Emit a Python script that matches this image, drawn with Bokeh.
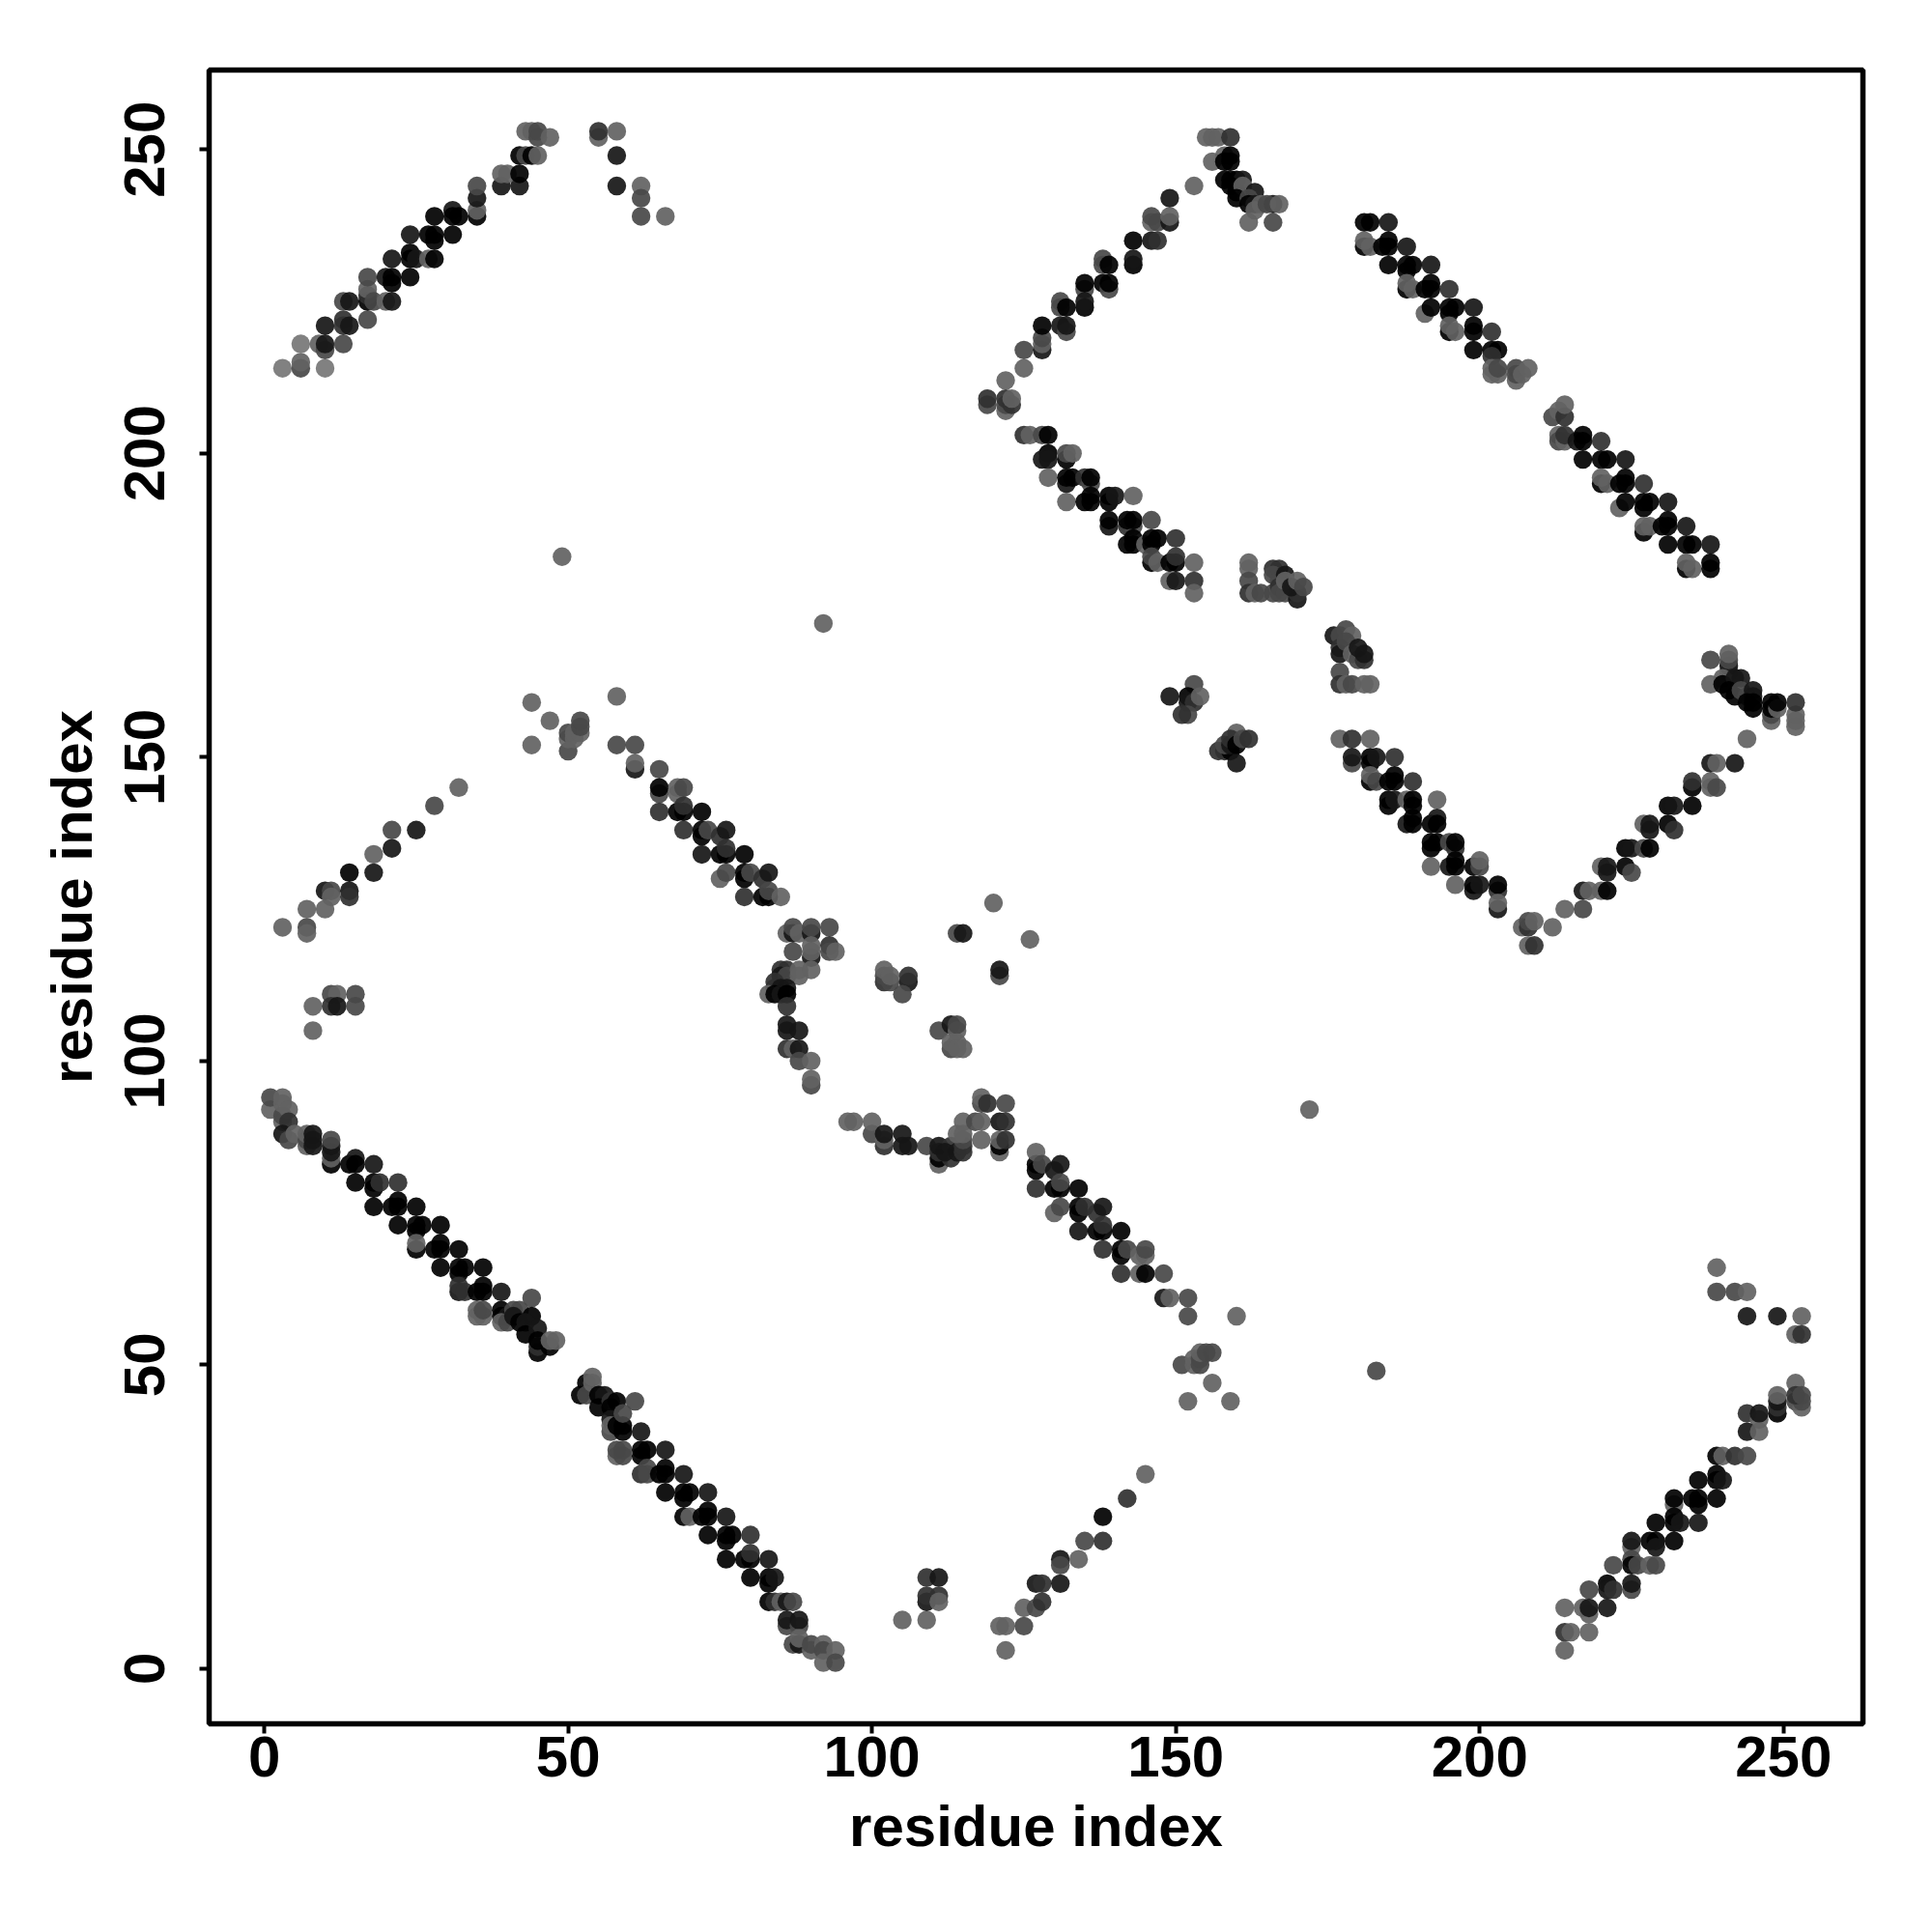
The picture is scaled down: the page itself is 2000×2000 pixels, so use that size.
from bokeh.embed import file_html
from bokeh.resources import INLINE
from bokeh.plotting import figure
from bokeh.models import ColumnDataSource, FixedTicker

# (i, j, level): level 0 is the darkest contact, 5 the palest
top_left = [(3,214,5),(6,214,3),(6,215,4),(10,214,5),(6,218,5),(9,218,4),(10,217,3),(10,218,1),(13,218,3),
 (10,221,1),(13,222,2),(13,221,2),(14,221,1),(17,222,3),(13,225,3),(14,225,1),(17,225,0),(17,226,2),(17,227,4),(17,229,3),
 (18,225,3),(20,225,4),(21,225,1),(20,229,1),(21,229,0),(21,228,0),(24,229,0),(21,232,1),(24,232,0),(24,233,0),(25,232,1),
 (27,232,4),(28,232,0),(24,236,1),(27,236,0),(28,236,0),(28,235,0),(31,236,0),(28,239,0),(31,240,1),(31,239,0),(32,239,0),
 (35,239,0),(35,240,4),(35,242,1),(35,244,3),(39,244,1),(42,244,1),(39,246,4),(40,246,4),(42,246,0),(42,249,0),(43,249,3),
 (44,249,0),(45,249,4),(43,253,4),(44,253,4),(45,252,3),(45,253,3),(47,252,4),(55,252,4),(55,253,2),(58,253,4),(58,249,1),
 (58,244,1),(62,244,4),(62,242,3),(62,239,3),(66,239,4)]

upper_mid = [(119,208,3),(119,209,2),(122,212,4),(122,207,4),(122,208,3),(122,209,2),(123,208,2),(123,209,4),(125,214,4),(125,217,3),
 (128,217,1),(128,218,4),(128,219,3),(128,221,0),(131,221,1),(132,220,3),(132,221,1),(131,225,3),(131,224,3),(132,224,0),
 (135,227,3),(135,224,0),(135,225,1),(135,228,0),(138,228,0),(139,227,3),(139,228,0),(138,232,3),(138,231,3),(139,231,0),
 (143,231,0),(143,232,1),(143,235,0),(146,235,1),(147,235,2),(146,238,4),(146,239,3),(147,238,3),(149,238,1),(149,239,4),
 (149,242,1),(153,244,4),(155,252,4),(156,252,4),(157,252,4),(159,252,2),(156,248,4),(158,249,4),(158,248,0),(159,249,0),
 (159,248,0),(158,245,0),(159,245,0),(160,245,0),(161,245,1),(159,244,0),(160,243,0),(161,244,4),(160,242,0),(163,243,1),
 (162,242,3),(162,241,0),(163,241,1),(163,240,4),(164,241,4),(166,241,1),(165,241,3),(167,241,4),(162,238,4),(166,238,3)]

right_upper = [(181,238,0),(182,238,0),(185,238,1),(181,234,0),(181,235,4),(182,234,4),(184,234,0),(185,235,0),(185,234,0),(188,234,1),
 (185,231,0),(188,231,0),(188,230,0),(189,231,0),(192,231,1),(188,227,0),(188,228,4),(189,227,4),(191,227,0),(192,228,0),
 (192,227,0),(195,227,2),(191,223,4),(192,224,0),(195,224,0),(195,223,0),(196,224,0),(199,224,1),(195,220,0),(195,221,4),(196,220,4),
 (199,221,0),(199,220,0),(202,220,2),(199,217,0),(202,217,0),(203,217,0),(202,216,2),(202,213,4),(203,213,4),(202,214,4),(203,214,3),
 (206,212,4),(206,213,3),(206,214,3),(207,213,4),(208,214,4)]

right_lower = [(212,206,3),(213,207,4),(214,206,2),(214,208,4),(213,203,4),(213,202,3),(214,202,4),(214,203,2),(216,202,1),(217,203,0),(217,202,0),(220,202,2),
 (217,199,0),(220,199,0),(221,199,0),(224,199,1),(220,195,0),(220,196,4),(221,195,4),(223,195,0),(224,196,0),(224,195,0),(227,195,2),
 (223,191,4),(224,192,0),(227,192,0),(227,191,0),(228,192,0),(231,192,1),(227,187,0),(227,188,4),(228,188,4),(230,188,0),(231,189,0),(231,188,0),(234,188,1),
 (231,185,0),(234,185,0),(235,185,0),(238,185,1),(234,181,0),(234,182,4),(235,181,4),(238,182,0),(238,181,0)]

second_band = [(125,203,2),(126,203,4),(128,203,3),(129,203,0),(129,200,0),(128,199,1),(129,199,1),(132,199,0),(132,200,3),(133,200,4),(129,196,4),
 (132,195,1),(132,196,0),(133,196,0),(135,196,2),(136,195,3),(136,196,0),(132,192,4),(135,192,0),(136,192,0),(136,193,0),(139,193,0),(139,192,0),(140,193,1),(143,193,4),
 (139,188,1),(139,189,0),(142,188,2),(143,188,3),(142,189,0),(143,189,0),(146,189,3),(142,185,0),(143,185,0),(143,186,0),(145,185,4),(146,185,0),(146,186,0),(147,186,0),(150,186,2),
 (146,182,0),(146,183,3),(147,182,4),(149,182,0),(150,182,0),(150,183,2),(153,182,4),(149,179,4),(150,179,1),(153,179,2),(153,177,4)]

cluster_165 = [(162,182,4),(162,181,4),(162,179,3),(162,177,2),(163,177,4),(164,177,3),(166,181,2),(167,181,2),(166,180,3),(167,179,3),(168,180,1),(166,177,3),(167,178,2),(167,177,3),(168,177,3),(168,179,4),
 (170,176,1),(170,177,2),(169,178,1),(170,179,4),(171,178,3)]

cluster_178 = [(176,170,1),(178,171,3),(177,170,3),(179,170,4),(177,168,2),(177,167,1),(178,169,3),(179,167,4),(180,166,3),(181,166,2),(180,168,1),(181,167,1),
 (177,164,3),(177,162,2),(178,162,4),(179,162,3),(181,162,4),(182,162,4)]

cluster_150 = [(149,160,1),(153,162,3),(152,160,0),(152,159,1),(153,159,2),(154,160,4),(152,157,3),(151,157,2),
 (157,151,2),(158,151,2),(159,151,0),(158,152,3),(159,152,1),(160,154,4),(159,153,2),(160,152,0),(161,153,3),(162,153,2),(160,149,1)]

v_left = [(177,153,4),(179,153,2),(182,153,4),(179,149,3),(179,150,1),(182,150,0),(182,149,0),(183,150,1),(186,150,2),(182,146,0),(182,147,4),(183,146,3),
 (185,146,0),(186,147,0),(186,146,0),(189,146,2),(185,142,0),(185,143,0),(186,143,1),(188,143,4),(189,143,0),(189,142,0),(193,143,4),
 (188,139,1),(189,140,0),(189,139,0),(192,139,0),(193,140,1),(193,139,0),(192,136,0),(192,135,0),(193,136,0),(195,136,3),(196,135,2),(196,136,0),
 (192,132,4),(195,132,1),(196,132,0),(196,133,0),(199,132,0),(200,132,3),(200,133,4),(196,129,4),(199,128,1),(199,129,0),(200,129,1),
 (203,128,2),(203,129,0),(203,125,1),(203,126,4),(207,122,4),(208,122,2),(208,123,3),(209,123,4),(208,119,4),(209,119,2),(212,122,4)]

v_right = [(214,125,4),(217,125,3),(217,128,1),(218,128,4),(220,128,4),(221,128,0),(220,132,4),(221,131,1),(221,132,1),(224,132,0),(225,131,3),
 (224,135,0),(225,135,1),(227,135,3),(228,135,0),(227,139,4),(228,138,1),(228,139,1),(231,139,0),(232,138,2),(231,142,0),(232,142,1),(235,142,0),
 (235,145,0),(235,146,2),(238,145,4),(238,146,4),(239,145,3),(238,149,1),(239,149,4),(242,149,1),(244,153,4)]

right_edge = [(238,166,3),(238,162,4),(241,164,4),(241,165,1),(241,166,3),(241,167,4),(240,163,4),(240,162,0),(242,163,1),(243,163,1),(241,161,0),(242,160,0),
 (243,161,3),(244,160,3),(245,161,1),(245,160,1),(244,159,0),(245,158,0),(245,159,0),(248,156,4),(248,157,3),(248,158,0),(248,159,0),(249,158,4),(249,159,0),
 (252,155,4),(252,156,4),(252,157,4),(252,159,2)]

mid_band = [(58,160,4),(47,156,4),(50,151,3),(50,153,4),(50,154,3),(51,153,4),(51,154,4),(52,154,4),(52,155,3),(52,156,3),(58,152,3),(61,152,3),(61,148,1),(61,149,4),(65,148,3),
 (65,144,3),(65,145,0),(68,144,4),(68,145,4),(69,145,3),(65,141,2),(68,141,0),(69,141,0),(69,142,2),(72,141,0),(69,138,2),(72,138,0),(72,137,0),(73,138,3),(75,137,2),(76,138,1),
 (72,134,1),(75,134,0),(76,134,0),(76,135,2),(79,134,0),(75,130,4),(76,131,3),(79,131,0),(79,130,0),(80,131,3),(82,130,2),(83,131,1),(79,127,2),(82,127,0),(83,127,0),(83,128,3),(85,127,4)]

hook = [(86,121,4),(87,121,1),(87,122,3),(88,121,4),(90,121,1),(90,122,3),(93,122,3),(87,118,3),(90,117,1),(90,118,4),(90,119,4),(93,119,2),(93,118,3),(94,118,4),
 (85,115,2),(86,115,2),(85,114,1),(86,114,3),(88,114,4),(88,115,4),(90,115,4),(84,113,2),(84,112,2),(85,112,1),(86,112,1),(83,111,4),(84,111,0),(85,111,1),(86,111,0),
 (86,109,2),(86,106,1),(86,105,1),(88,105,1),(86,102,2),(87,102,4),(88,102,1),(88,100,3),(90,100,4),(90,96,3),(90,97,4)]

pocket = [(102,113,2),(102,114,3),(102,115,4),(103,113,3),(103,114,4),(106,113,1),(106,114,2),(105,111,3),(120,126,4),(114,121,3),(115,121,1),(126,120,4),
 (121,114,3),(121,115,1),(111,105,3),(113,106,1),(114,105,4),(114,106,3),(113,102,3),(113,103,4),(114,103,4),(114,102,4),(115,102,4)]

chain = [(96,90,4),(97,90,4),(100,88,3),(100,90,4),(102,86,2),(102,87,4),(102,88,1),(105,88,1),(105,86,1),(106,86,1),(109,86,3),(111,83,4),(111,84,0),(111,85,2),(111,86,1),
 (113,84,2),(113,86,2),(112,85,1),(114,85,1),(115,85,2),(115,86,2),(115,87,3),(114,88,4),(115,88,4),(115,90,4),(117,90,3),(118,90,4),(118,93,3),(118,94,4),(119,93,2),
 (118,87,4),(122,93,3),(121,90,1),(122,90,2),(121,85,4),(121,86,0),(121,87,4),(122,87,2)]

lower_band = [(127,82,0),(127,83,0),(127,85,4),(128,83,3),(130,82,1),(131,83,1),(127,79,2),(130,79,0),(131,79,0),(131,80,3),(134,79,0),(130,75,4),(131,76,3),
 (134,76,0),(134,75,0),(135,76,2),(137,75,2),(138,76,1),(134,72,1),(137,72,0),(138,72,0),(138,73,2),(141,72,0),(138,69,2),(141,69,0),(141,68,0),(142,69,3),
 (144,68,4),(145,68,4),(145,69,3),(141,65,2),(144,65,4),(145,65,0),(148,65,3),(148,61,1),(149,61,4),(152,61,3),(152,58,3),(160,58,4),
 (151,50,3),(153,50,4),(153,51,4),(154,50,3),(154,51,3),(154,52,4),(155,52,3),(156,52,3),(156,47,4),(152,44,4),(159,44,4)]

main_diag_a = [(1,92,4),(1,94,3),(3,90,4),(3,91,3),(3,93,4),(3,94,4),(4,92,4),(4,90,2),(3,88,1),(4,87,3),(5,88,4),(7,86,4),(7,87,3),(7,88,4),(8,86,1),(8,87,1),(8,88,1),
 (11,83,0),(11,84,4),(11,85,1),(11,86,1),(11,87,3),(14,83,0),(15,84,1),(15,83,0),(18,83,1),(15,80,0),(18,80,0),(18,79,0),(19,80,2),(22,80,2),
 (18,76,0),(21,76,0),(22,77,0),(22,76,0),(25,76,0),(22,73,0),(25,73,0),(25,72,0),(26,73,0),(29,73,0),(25,69,0),(25,70,4),(28,69,0),(29,70,0),(29,69,0),(32,69,0),
 (29,66,0),(32,66,0),(32,65,0),(33,66,0),(36,66,0),(32,62,1),(32,63,2),(33,62,2),(35,62,0),(36,63,0),(36,62,0),(39,62,1),
 (35,58,4),(36,58,4),(35,59,4),(36,59,3),(39,59,0),(39,58,0),(40,58,1),(39,57,4),(40,57,3),(41,59,3),(42,59,3),(41,58,1),(42,57,0),
 (44,61,3),(44,58,0),(43,57,1),(43,55,0),(45,56,1),(45,52,0),(45,53,2),(45,54,0),(47,53,0),(47,54,4),(48,54,4)]

main_diag_b = [(52,45,0),(53,47,0),(53,45,3),(54,47,4),(54,48,4),(55,45,0),(56,45,1),(55,43,0),(57,44,2),(58,44,0),(61,44,3),(57,43,0),(57,41,1),(57,39,3),(57,40,4),(58,40,0),(59,40,0),(59,39,0),(59,42,3),
 (62,39,1),(58,35,4),(58,36,3),(59,36,3),(59,35,3),(62,36,0),(62,35,0),(63,36,0),(66,36,1),(62,32,2),(63,33,3),(63,32,3),(65,32,0),(66,33,0),(66,32,0),(69,32,1),
 (66,29,0),(69,29,0),(69,28,0),(70,29,0),(73,29,1),(69,25,0),(70,25,4),(72,25,0),(73,26,0),(73,25,0),(76,25,1),(73,22,0),(76,22,0),(76,21,0),(77,22,0),(80,22,2),
 (76,18,0),(79,18,0),(80,18,0),(80,19,2),(83,18,1),(80,15,0),(83,15,0),(83,14,0),(84,15,1),(83,11,0),(84,11,2),(85,11,4),(86,11,1),(87,11,3),
 (86,7,3),(86,8,1),(88,7,3),(88,8,1),(87,4,3),(88,4,1),(88,5,4),(90,3,4),(90,4,3),(92,4,4),(92,3,3),(92,1,4),(94,3,4),(94,1,3)]

bottom_mid = [(105,8,4),(109,8,4),(109,15,2),(111,15,1),(109,11,1),(109,12,2),(111,12,2),(111,11,4),(121,7,4),(122,7,4),(122,3,4),(125,7,3),(125,10,4),(127,10,3),(128,11,2),
 (127,14,1),(128,14,2),(131,14,1),(131,18,1),(131,17,3),(134,18,4),(135,21,3),(138,21,2),(138,25,0),(142,28,2),(145,32,4)]

left_mid = [(3,122,4),(7,125,4),(7,122,3),(7,121,4),(10,125,4),(10,128,1),(11,128,3),(11,127,4),(14,128,1),(14,127,2),(14,131,0),(18,131,1),(18,134,4),(21,135,1),(21,138,3),
 (25,138,1),(28,142,3),(32,145,4),(44,159,4),(44,152,4),(8,109,4),(8,105,4),(11,111,3),(12,111,4),(11,109,2),(12,109,1),(15,111,3),(15,109,3)]

lone = [(49,183,4),(92,172,4),(172,92,4),(183,49,3)]

bottom_right = [(239,66,4),(239,62,3),(242,62,3),(244,62,4),(244,58,1),(249,58,1),(253,58,4),(252,55,4),(253,55,2),(252,47,4),(249,42,0),(249,43,2),(249,44,1),(249,45,4),
 (252,44,3),(253,43,4),(253,44,3),(252,45,2),(253,45,3),(244,42,2),(246,41,4),(246,42,1),(244,39,1),(246,39,4),(239,35,0),(240,35,4),(242,35,2),(244,35,3),
 (239,32,0),(239,31,0),(240,31,1),(236,31,0),(239,28,0),(235,28,0),(236,28,0),(236,27,0),(232,27,4),(232,28,0),(232,25,0),(232,24,0),(233,24,1),(236,24,1),(229,24,0),
 (228,21,0),(229,21,0),(229,20,1),(232,21,0),(225,20,4),(225,21,1),(225,18,3),(225,17,0),(226,17,3),(228,17,4),(229,17,3),(222,17,3),
 (221,14,0),(221,13,1),(222,13,2),(225,13,3),(225,14,1),(218,13,3),(214,10,4),(217,10,4),(218,9,4),(218,10,1),(221,10,1),(214,6,2),(215,6,4),(218,6,4),(214,3,4)]

x_ticks = [0, 50, 100, 150, 200, 250]
y_ticks = [0, 50, 100, 150, 200, 250]
x_title = "residue index"
y_title = "residue index"

groups = [top_left, upper_mid, right_upper, right_lower, second_band, cluster_165, cluster_178, cluster_150,
          v_left, v_right, right_edge, mid_band, hook, pocket, chain, lower_band, main_diag_a, main_diag_b,
          bottom_mid, left_mid, lone, bottom_right]
points = [pt for g in groups for pt in g]
GRAY = [0, 22, 48, 72, 98, 118]
src = ColumnDataSource(dict(
    x=[q[0] for q in points], y=[q[1] for q in points],
    c=["#{0:02x}{0:02x}{0:02x}".format(GRAY[q[2]]) for q in points]))

FRAME = 1712
p = figure(width=1984, height=1984, frame_width=FRAME, frame_height=FRAME,
           x_range=(-9.08, 263.08), y_range=(-9.08, 263.08),
           output_backend="svg", toolbar_location=None,
           min_border_left=216, min_border_right=56, min_border_top=72, min_border_bottom=200)
p.scatter("x", "y", source=src, size=19.4, fill_color="c", fill_alpha=0.92, line_color=None)

p.grid.visible = False
p.outline_line_color = "black"
p.outline_line_width = 5.5
p.background_fill_color = "white"
p.border_fill_color = "white"
for ax, ticks, title in ((p.xaxis[0], x_ticks, x_title), (p.yaxis[0], y_ticks, y_title)):
    ax.ticker = FixedTicker(ticks=ticks)
    ax.axis_label = title
    ax.axis_line_color = None
    ax.major_tick_line_color = "black"
    ax.major_tick_line_width = 4
    ax.major_tick_in = 0
    ax.major_tick_out = 10
    ax.minor_tick_line_color = None
    ax.major_label_text_font = "Liberation Sans"
    ax.major_label_text_font_style = "bold"
    ax.major_label_text_font_size = "60px"
    ax.major_label_text_color = "black"
    ax.axis_label_text_font = "Liberation Sans"
    ax.axis_label_text_font_style = "bold"
    ax.axis_label_text_font_size = "60px"
    ax.axis_label_text_color = "black"
p.yaxis[0].major_label_orientation = "vertical"
p.xaxis[0].major_label_standoff = 3
p.yaxis[0].major_label_standoff = 36
p.xaxis[0].axis_label_standoff = 15
p.yaxis[0].axis_label_standoff = 19

open("out.html", "w").write(file_html(p, INLINE))
